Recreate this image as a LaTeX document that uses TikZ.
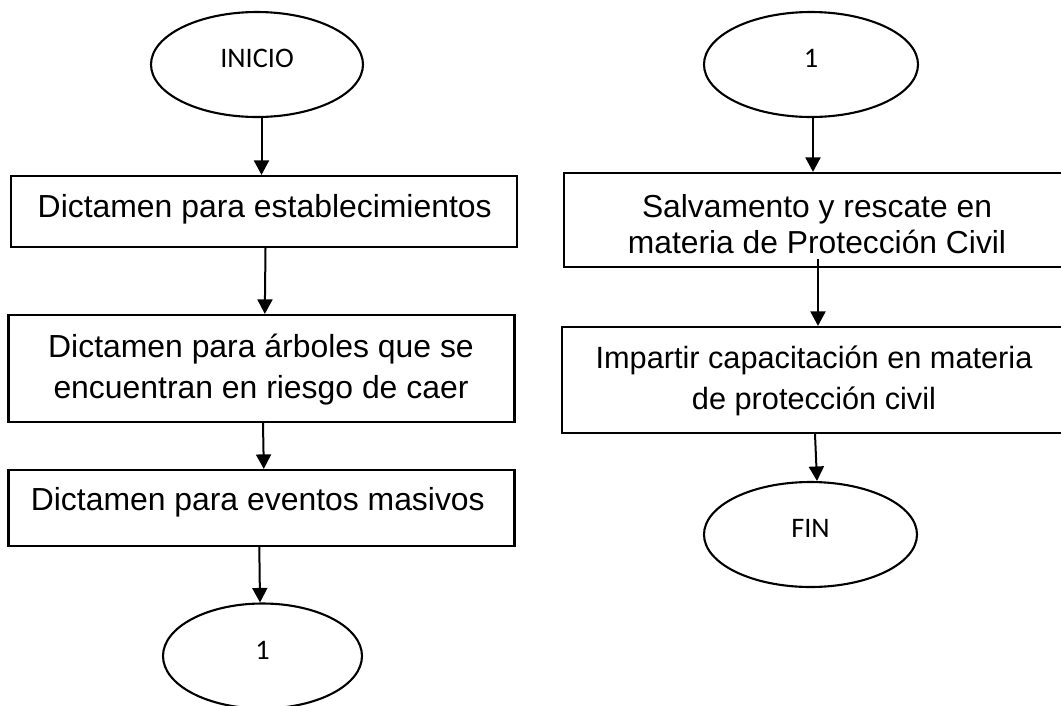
\documentclass[tikz,border=0pt]{standalone}
\usepackage{fontspec}
\setmainfont{Liberation Sans}
\newfontfamily\calib{Carlito}
\usetikzlibrary{arrows.meta,shapes.geometric,calc}
\begin{document}
\begin{tikzpicture}[x=1pt,y=-1pt,
  box/.style={draw, line width=2.2pt, inner sep=0pt},
  oval/.style={draw, ellipse, line width=2.1pt, inner sep=0pt,
    minimum height=105pt, text depth=12pt,
    font=\calib\fontsize{28.3}{30}\selectfont},
  btxt/.style={align=center, inner sep=0pt, font=\fontsize{31.9}{41}\selectfont},
  arr/.style={line width=2pt, -{Triangle[width=15pt,length=14.5pt]}}]
\useasboundingbox (0,0) rectangle (1061,705);
\clip (0,0) rectangle (1061,705);
\fill[white] (0,0) rectangle (1061,705);

% left column
\node[oval, minimum width=212pt] (e1) at (257,64.5) {INICIO};
\node[box, minimum width=506pt, minimum height=71pt] (b1) at (264,211.5) {};
\node[btxt, anchor=base] (t1) at (264.7,217.7) {Dictamen para establecimientos};
\node[box, minimum width=506pt, minimum height=107pt] (b2) at (261.5,368.5) {};
\node[btxt] (t2) at (261,369.4) {Dictamen para árboles que se\\encuentran en riesgo de caer};
\node[box, minimum width=506pt, minimum height=76pt] (b3) at (261.5,508) {};
\node[btxt, anchor=base] (t3) at (257.8,510) {Dictamen para eventos masivos};
\node[oval, minimum width=199pt] (e2) at (262.5,656) {1};

% right column
\node[oval, minimum width=214pt] (e3) at (811,64.5) {1};
\node[box, minimum width=502pt, minimum height=94pt] (b4) at (815,220) {};
\node[btxt, font=\fontsize{31.8}{36}\selectfont] (t4) at (817,224) {Salvamento y rescate en\\materia de Protección Civil};
\node[box, minimum width=504pt, minimum height=106pt] (b5) at (814,380) {};
\node[btxt, font=\fontsize{30.7}{41}\selectfont] (t5) at (814,380.4) {Impartir capacitación en materia\\de protección civil};
\node[oval, minimum width=213pt] (e4) at (810.5,534.5) {FIN};

% connectors
\draw[arr] ($(e1.south)+(4.5,0)$) -- ($(b1.north)+(-2.5,0)$);
\draw[arr] ($(b1.south)+(1.5,0)$) -- ($(b2.north)+(3.3,0)$);
\draw[arr] ($(b2.south)+(1.5,0)$) -- ($(b3.north)+(2.3,0)$);
\draw[arr] ($(b3.south)+(-2.2,0)$) -- ($(e2.north)+(-2.5,0)$);
\draw[arr] ($(e3.south)+(2,0)$) -- ($(b4.north)+(-2,0)$);
\draw[arr] ($(b4.south)+(3,-9)$) -- ($(b5.north)+(4,0)$);
\draw[arr] ($(b5.south)+(1,0)$) -- ($(e4.north)+(6.5,0)$);
\end{tikzpicture}
\end{document}
